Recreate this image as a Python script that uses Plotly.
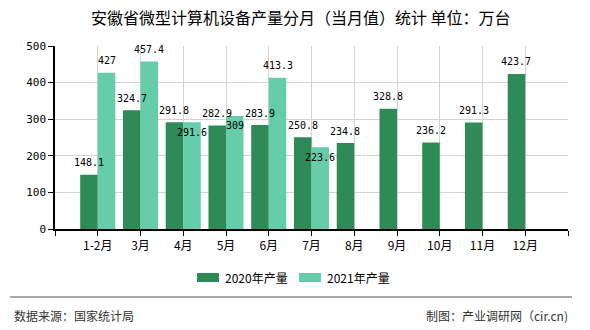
import plotly.graph_objects as go

categories = ["1-2月", "3月", "4月", "5月", "6月", "7月", "8月", "9月", "10月", "11月", "12月"]
series_names = ["2020年产量", "2021年产量"]
values_2020 = [148.1, 324.7, 291.8, 282.9, 283.9, 250.8, 234.8, 328.8, 236.2, 291.3, 423.7]
values_2021 = [427, 457.4, 291.6, 309, 413.3, 223.6, None, None, None, None, None]
y_ticks = [0, 100, 200, 300, 400, 500]

title_text = "安徽省微型计算机设备产量分月（当月值）统计 单位：万台"
source_text = "数据来源：国家统计局"
maker_text = "制图：产业调研网（cir.cn)"

colors = ["#2E8B57", "#66CDAA"]
bar_w = 0.41
offsets = [-bar_w, 0.0]
# labels drawn just inside the bar top (series index, category index)
labels_below = {(1, 2), (1, 3), (1, 5)}

CJK = "Noto Sans CJK SC, sans-serif"
MONO = "DejaVu Sans Mono, monospace"

xs = list(range(len(categories)))
fig = go.Figure()
annotations = []
for s, vals in enumerate([values_2020, values_2021]):
    fig.add_trace(go.Bar(
        x=xs, y=vals, name=series_names[s],
        marker=dict(color=colors[s], line=dict(width=0)),
        width=bar_w, offset=offsets[s], showlegend=False,
    ))
    for i, v in enumerate(vals):
        if v is None:
            continue
        below = (s, i) in labels_below
        annotations.append(dict(
            x=i + offsets[s] + bar_w / 2, y=v, xref="x", yref="y",
            text=f"{v:g}", showarrow=False, yanchor="middle",
            yshift=-10 if below else 12,
            font=dict(family=MONO, size=10, color="#000"),
        ))

# title
annotations.append(dict(x=0.4795, y=1.158, xref="paper", yref="paper", text=title_text,
                        showarrow=False, xanchor="center", yanchor="middle",
                        font=dict(family=CJK, size=16, color="#000")))
# legend (manual)
leg_x = [(0.2768, 0.3197, 0.3275), (0.4756, 0.5185, 0.5263)]
shapes = []
for s in range(2):
    x0, x1, tx = leg_x[s]
    shapes.append(dict(type="rect", xref="paper", yref="paper", x0=x0, x1=x1,
                       y0=-0.2896, y1=-0.2404, fillcolor=colors[s], line=dict(width=0)))
    annotations.append(dict(x=tx, y=-0.265, xref="paper", yref="paper", text=series_names[s],
                            showarrow=False, xanchor="left", yanchor="middle",
                            font=dict(family=CJK, size=12, color="#000")))
# footer
shapes.append(dict(type="line", xref="paper", yref="paper", x0=-0.0877, x1=1.0078,
                   y0=-0.3716, y1=-0.3716, line=dict(color="#888888", width=1.5)))
annotations.append(dict(x=-0.0838, y=-0.4754, xref="paper", yref="paper", text=source_text,
                        showarrow=False, xanchor="left", yanchor="middle",
                        font=dict(family=CJK, size=12, color="#333")))
annotations.append(dict(x=1.0039, y=-0.4754, xref="paper", yref="paper", text=maker_text,
                        showarrow=False, xanchor="right", yanchor="middle",
                        font=dict(family=CJK, size=12, color="#333")))

fig.update_layout(
    width=590, height=330,
    margin=dict(l=55, r=22, t=46, b=101),
    paper_bgcolor="white", plot_bgcolor="white",
    barmode="overlay",
    showlegend=False,
    annotations=annotations, shapes=shapes,
    font=dict(family=CJK, size=12, color="#000"),
)
fig.update_xaxes(
    range=[-1, len(categories)],
    tickmode="array", tickvals=list(range(-1, len(categories) + 1)),
    ticktext=[""] + categories + [""],
    showgrid=True, gridcolor="#d3d3d3", gridwidth=1,
    showline=True, linecolor="#000", linewidth=1.5,
    ticks="outside", ticklen=5, tickcolor="#000",
    tickfont=dict(family=CJK, size=12, color="#000"),
    zeroline=False, fixedrange=True,
)
fig.update_yaxes(
    range=[0, 500], tickmode="array", tickvals=y_ticks,
    showgrid=True, gridcolor="#d3d3d3", gridwidth=1,
    showline=True, linecolor="#000", linewidth=1.5,
    ticks="outside", ticklen=5, tickcolor="#000",
    tickfont=dict(family=MONO, size=11, color="#000"),
    zeroline=False, fixedrange=True,
)
fig.write_html("out.html")
